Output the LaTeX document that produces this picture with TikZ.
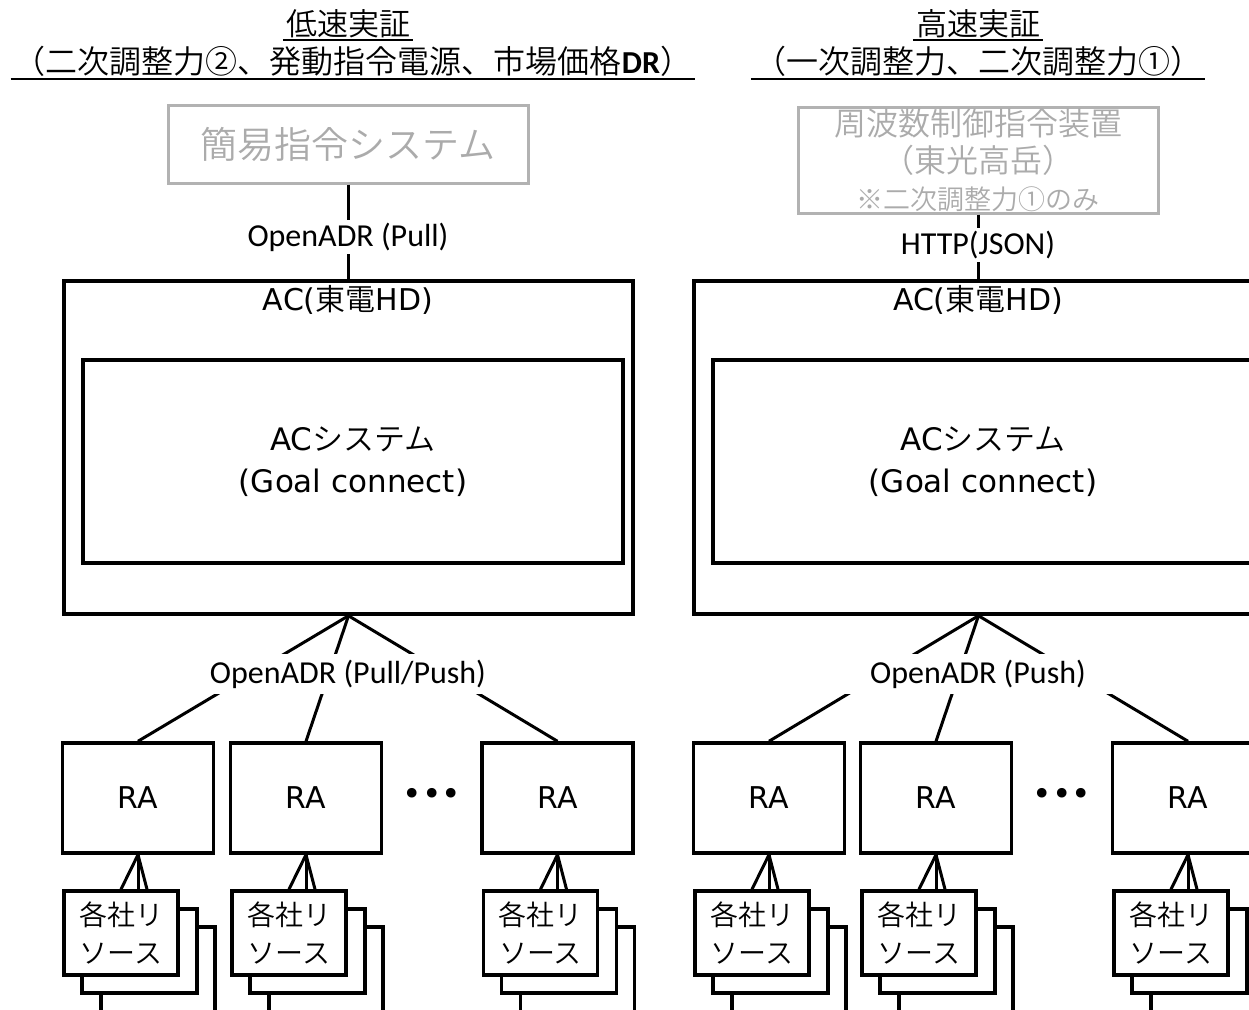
\documentclass[tikz,border=0pt]{standalone}
\usepackage{fontspec}
\IfFontExistsTF{Noto Sans CJK JP DemiLight}
  {\setmainfont{Noto Sans CJK JP DemiLight}}
  {\setmainfont{Noto Sans CJK JP}}
\newfontfamily\calfont{Carlito}
\newfontfamily\latfont{DejaVu Sans}

\begin{document}
\begin{tikzpicture}[x=1pt,y=-1pt,line join=miter,
  font=\fontsize{31}{37}\selectfont,
  box/.style={draw,line width=3.5pt,fill=white,inner sep=0pt},
  graybox/.style={draw=black!30,line width=3pt,text=black!33,inner sep=0pt},
  link/.style={line width=3pt},
  proto/.style={fill=white,inner sep=3pt,font=\calfont\fontsize{32}{38}\selectfont},
  ttl/.style={anchor=base,inner xsep=3pt,inner ysep=0pt},
  uline/.style={line width=2pt}]
  \useasboundingbox (0,0) rectangle (1249,1009);
  \clip (0,0) rectangle (1249,1009);

  % left: low speed
  \node[ttl] (ttlL1) at (348,35) {低速実証};
  \node[ttl,font=\fontsize{32}{38}\selectfont] (ttlL2) at (353,73) {（二次調整力②、発動指令電源、市場価格{\calfont\bfseries DR}）};
  \draw[uline] (ttlL1.west |- 0,40) -- (ttlL1.east |- 0,40);
  \draw[uline] (ttlL2.west |- 0,79) -- (ttlL2.east |- 0,79);
  \node[graybox,minimum width=360,minimum height=78,font=\fontsize{37}{44}\selectfont] (cmdL) at (348,144) {簡易指令システム};
  \node[box,minimum width=569,minimum height=333] (acL) at (348.5,447.5) {};
  \node[anchor=base,font=\fontsize{30}{36}\selectfont] (acLt) at (348,310) {{\latfont AC(}東電{\latfont HD)}};
  \node[box,minimum width=540,minimum height=203,align=center,font=\fontsize{31}{42}\selectfont] (sysL) at (353,461.5) {{\latfont AC}システム\\{\latfont (Goal connect)}};
  \draw[link] (cmdL.south) -- (cmdL.south |- acL.north);
  \node[proto] (pullL) at (348,237) {OpenADR (Pull)};
  \node[box,minimum width=151,minimum height=110,font=\latfont\fontsize{30}{36}\selectfont] (raL1) at (138,798) {RA};
  \node[box,minimum width=151,minimum height=110,font=\latfont\fontsize{30}{36}\selectfont] (raL2) at (306,798) {RA};
  \node[box,minimum width=151,minimum height=110,font=\latfont\fontsize{30}{36}\selectfont] (raL3) at (557.5,798) {RA};
  \draw[link] (acL.south) -- (raL1.north);
  \draw[link] (acL.south) -- (raL2.north);
  \draw[link] (acL.south) -- (raL3.north);
  \node[proto,minimum width=282,minimum height=40] (pushL) at (348,674) {OpenADR (Pull/Push)};
  \node[font=\latfont\fontsize{33}{33}\selectfont] (dotsL) at (432,797) {•••};

  % left resources
  \draw[box] (101,927) rectangle (215,1030);
  \draw[box] (82,909) rectangle (197,993);
  \node[box,minimum width=114,minimum height=84,align=center,font=\fontsize{28}{38}\selectfont] (resL1) at (121,933) {各社リ\\ソース};
  \draw[link] (raL1.south) -- (resL1.north);
  \draw[link] (raL1.south) -- ([xshift=17pt]resL1.north);
  \draw[link] (raL1.south) -- ([xshift=26pt]resL1.north);
  \draw[box] (269,927) rectangle (383,1030);
  \draw[box] (250,909) rectangle (365,993);
  \node[box,minimum width=114,minimum height=84,align=center,font=\fontsize{28}{38}\selectfont] (resL2) at (289,933) {各社リ\\ソース};
  \draw[link] (raL2.south) -- (resL2.north);
  \draw[link] (raL2.south) -- ([xshift=17pt]resL2.north);
  \draw[link] (raL2.south) -- ([xshift=26pt]resL2.north);
  \draw[box] (520.5,927) rectangle (634.5,1030);
  \draw[box] (501.5,909) rectangle (616.5,993);
  \node[box,minimum width=114,minimum height=84,align=center,font=\fontsize{28}{38}\selectfont] (resL3) at (540.5,933) {各社リ\\ソース};
  \draw[link] (raL3.south) -- (resL3.north);
  \draw[link] (raL3.south) -- ([xshift=17pt]resL3.north);
  \draw[link] (raL3.south) -- ([xshift=26pt]resL3.north);

  % right: high speed
  \node[ttl] (ttlR1) at (978,35) {高速実証};
  \node[ttl,font=\fontsize{32}{38}\selectfont] (ttlR2) at (978,73) {（一次調整力、二次調整力①）};
  \draw[uline] (ttlR1.west |- 0,40) -- (ttlR1.east |- 0,40);
  \draw[uline] (ttlR2.west |- 0,79) -- (ttlR2.east |- 0,79);
  \node[graybox,minimum width=360,minimum height=106,align=center,font=\fontsize{32}{37}\selectfont] (cmdR) at (978,160) {周波数制御指令装置\\（東光高岳）\\{\fontsize{27}{37}\selectfont ※二次調整力①のみ}};
  \node[box,minimum width=569,minimum height=333] (acR) at (978.5,447.5) {};
  \node[anchor=base,font=\fontsize{30}{36}\selectfont] (acRt) at (978,310) {{\latfont AC(}東電{\latfont HD)}};
  \node[box,minimum width=540,minimum height=203,align=center,font=\fontsize{31}{42}\selectfont] (sysR) at (983,461.5) {{\latfont AC}システム\\{\latfont (Goal connect)}};
  \draw[link] (cmdR.south) -- (cmdR.south |- acR.north);
  \node[proto] (httpR) at (978,245) {HTTP(JSON)};
  \node[box,minimum width=151,minimum height=110,font=\latfont\fontsize{30}{36}\selectfont] (raR1) at (769,798) {RA};
  \node[box,minimum width=151,minimum height=110,font=\latfont\fontsize{30}{36}\selectfont] (raR2) at (936,798) {RA};
  \node[box,minimum width=151,minimum height=110,font=\latfont\fontsize{30}{36}\selectfont] (raR3) at (1188,798) {RA};
  \draw[link] (acR.south) -- (raR1.north);
  \draw[link] (acR.south) -- (raR2.north);
  \draw[link] (acR.south) -- (raR3.north);
  \node[proto,minimum width=282,minimum height=40] (pushR) at (978,674) {OpenADR (Push)};
  \node[font=\latfont\fontsize{33}{33}\selectfont] (dotsR) at (1062,797) {•••};

  % right resources
  \draw[box] (732,927) rectangle (846,1030);
  \draw[box] (713,909) rectangle (828,993);
  \node[box,minimum width=114,minimum height=84,align=center,font=\fontsize{28}{38}\selectfont] (resR1) at (752,933) {各社リ\\ソース};
  \draw[link] (raR1.south) -- (resR1.north);
  \draw[link] (raR1.south) -- ([xshift=17pt]resR1.north);
  \draw[link] (raR1.south) -- ([xshift=26pt]resR1.north);
  \draw[box] (899,927) rectangle (1013,1030);
  \draw[box] (880,909) rectangle (995,993);
  \node[box,minimum width=114,minimum height=84,align=center,font=\fontsize{28}{38}\selectfont] (resR2) at (919,933) {各社リ\\ソース};
  \draw[link] (raR2.south) -- (resR2.north);
  \draw[link] (raR2.south) -- ([xshift=17pt]resR2.north);
  \draw[link] (raR2.south) -- ([xshift=26pt]resR2.north);
  \draw[box] (1151,927) rectangle (1265,1030);
  \draw[box] (1132,909) rectangle (1247,993);
  \node[box,minimum width=114,minimum height=84,align=center,font=\fontsize{28}{38}\selectfont] (resR3) at (1171,933) {各社リ\\ソース};
  \draw[link] (raR3.south) -- (resR3.north);
  \draw[link] (raR3.south) -- ([xshift=17pt]resR3.north);
  \draw[link] (raR3.south) -- ([xshift=26pt]resR3.north);
\end{tikzpicture}
\end{document}
